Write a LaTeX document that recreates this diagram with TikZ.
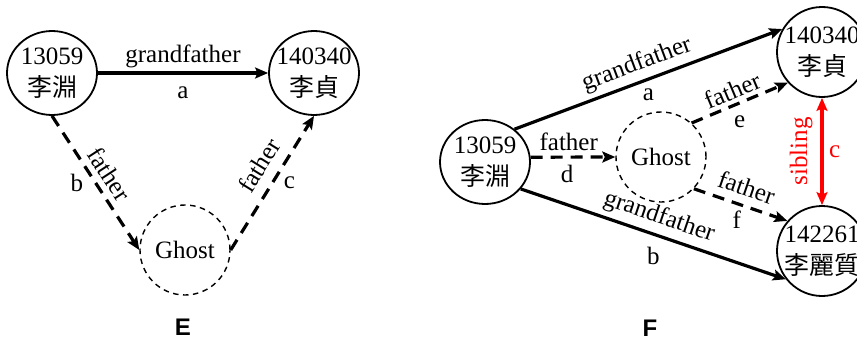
\documentclass[tikz,border=0pt]{standalone}
\usepackage{fontspec}
\setmainfont{Liberation Serif}
\newfontfamily\cjk{Noto Sans CJK TC}
\newfontfamily\panelfont{Liberation Sans}
\usetikzlibrary{arrows.meta,shapes.geometric}
\begin{document}
\begin{tikzpicture}[x=1pt,y=-1pt,
  person/.style={ellipse, draw, line width=1.8pt, minimum width=90pt, minimum height=84pt,
    inner xsep=-14pt, inner ysep=-12pt, align=center, font=\fontsize{25}{32}\selectfont},
  ghost/.style={circle, draw, line width=1.4pt, dash pattern=on 5.5pt off 4.5pt,
    minimum size=90pt, inner sep=0pt, font=\fontsize{25}{30}\selectfont},
  tip/.style={},
  rel/.style={line width=3.2pt, -{Stealth[length=13pt,width=11pt,inset=2.5pt]}},
  relghost/.style={rel, dash pattern=on 12pt off 8pt},
  sib/.style={line width=3.2pt, red, {Stealth[length=13pt,width=11pt,inset=2.5pt]}-{Stealth[length=13pt,width=11pt,inset=2.5pt]}},
  lbl/.style={font=\fontsize{25}{30}\selectfont, inner sep=1pt},
  panel/.style={font=\panelfont\bfseries\fontsize{24}{28}\selectfont}
]
\useasboundingbox (0,0) rectangle (857,340);

% ---------- Panel E ----------
\node[person] (n1E) at (52,73) {13059\\{\cjk 李淵}};
\node[person] (n2E) at (314,73) {140340\\{\cjk 李貞}};
\node[ghost] (gE) at (185,250) {Ghost};

\draw[rel] (n1E) -- node[lbl,above=3pt]{grandfather} node[lbl,below=11pt]{a} (n2E);
\draw[relghost] (n1E.south) -- node[lbl,sloped,above=5pt]{father} node[lbl,left=10pt]{b} (gE.west);
\draw[relghost] (gE.east) -- node[lbl,sloped,above=9pt,pos=0.55]{father} node[lbl,right=9pt]{c} (n2E.south);

\node[panel] (labE) at (183,327) {E};

% ---------- Panel F ----------
\node[person] (n1F) at (485,162) {13059\\{\cjk 李淵}};
\node[person, minimum height=90pt] (n2F) at (822,52) {140340\\{\cjk 李貞}};
\node[person, minimum height=90pt] (n3F) at (822,251) {142261\\{\cjk 李麗質}};
\node[ghost] (gF) at (661,157) {Ghost};

\draw[rel] (n1F.48) -- node[lbl,sloped,above=3.5pt,pos=0.48]{grandfather} node[lbl,below=7pt]{a} (n2F.150);
\draw[rel] (n1F.-37) -- node[lbl,sloped,above=4pt]{grandfather} node[lbl,below=10pt]{b} (n3F.218);
\draw[relghost] (n1F.6) -- node[lbl,above=4pt,pos=0.45]{father} node[lbl,below=5pt,pos=0.43]{d} (gF.west);
\draw[relghost] (gF.48) -- node[lbl,sloped,above=3pt,pos=0.48]{father} node[lbl,below=10pt]{e} (n2F.222);
\draw[relghost] (gF.-44) -- node[lbl,sloped,above=7pt,pos=0.5]{father} node[lbl,below=5pt,pos=0.46]{f} (n3F.139);
\draw[sib] (n3F.north) -- node[lbl,sloped,above=7pt,red]{sibling} node[lbl,right=4.5pt]{c} (n2F.south);

\node[panel] (labF) at (650,328) {F};
\end{tikzpicture}
\end{document}
